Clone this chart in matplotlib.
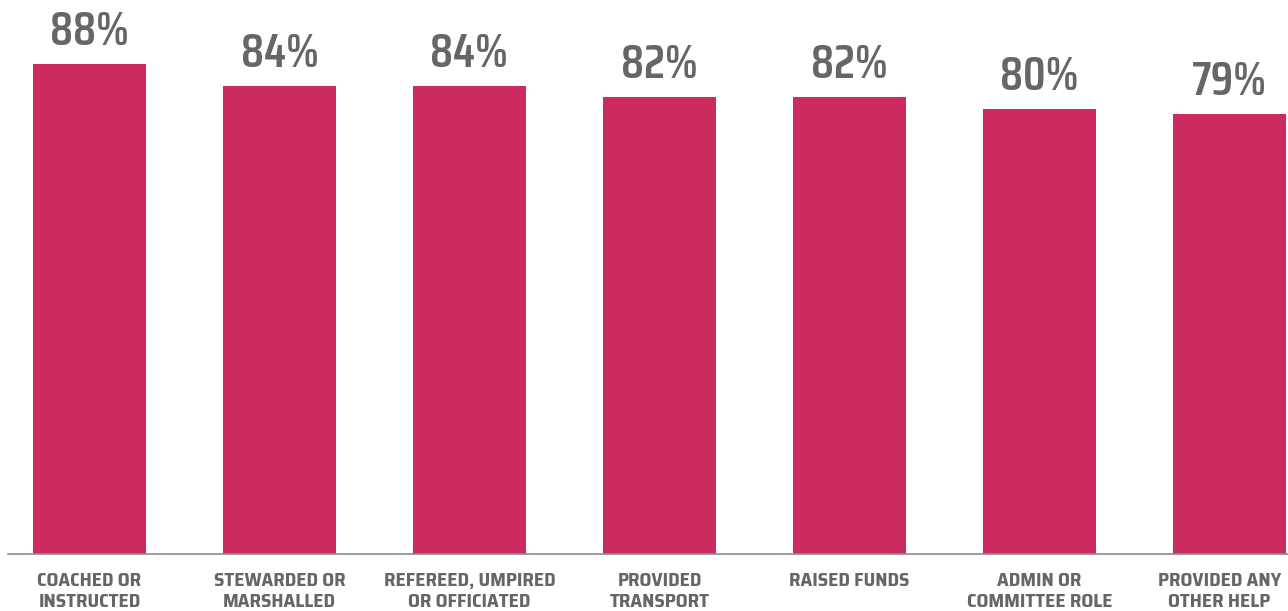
import matplotlib
matplotlib.use("Agg")
import matplotlib.pyplot as plt
from matplotlib.transforms import ScaledTranslation

# data
categories = ["COACHED OR\nINSTRUCTED", "STEWARDED OR\nMARSHALLED", "REFEREED, UMPIRED\nOR OFFICIATED",
              "PROVIDED\nTRANSPORT", "RAISED FUNDS", "ADMIN OR\nCOMMITTEE ROLE", "PROVIDED ANY\nOTHER HELP"]
values = [88, 84, 84, 82, 82, 80, 79]

BAR = "#cc2b5e"
GREY = "#666666"
FONT = ["Saira Condensed", "DejaVu Sans"]
LABEL_FONT = ["Saira SemiCondensed", "Saira Condensed", "DejaVu Sans"]

fig = plt.figure(figsize=(12.88, 6.11), dpi=100)
ax = fig.add_axes([8 / 1288, 57 / 611, 1280 / 1288, 554 / 611])

x = list(range(len(values)))
ax.bar(x, values, width=0.595, color=BAR)

# value labels above bars
for xi, v in zip(x, values):
    ax.annotate(f"{v}%", (xi, v), xytext=(0, 19), textcoords="offset pixels",
                ha="center", va="baseline", fontsize=34, color=GREY,
                family=FONT, weight="semibold")

ax.set_xlim(-0.429, 6.308)
ax.set_ylim(0, 99.5)
ax.set_xticks(x)
ax.set_xticklabels(categories, family=LABEL_FONT, weight="bold", fontsize=14,
                   color=GREY, linespacing=1.2)
ax.tick_params(axis="x", length=0, pad=13)
ax.set_yticks([])
for s in ["top", "left", "right"]:
    ax.spines[s].set_visible(False)
ax.spines["bottom"].set_color("#8c8c8c")
ax.spines["bottom"].set_linewidth(1.2)

# last label sits against the right edge, nudge it left so it fits
last = ax.get_xticklabels()[-1]
last.set_transform(last.get_transform() + ScaledTranslation(-10 / 100, 0, fig.dpi_scale_trans))

fig.savefig("out.png", dpi=100)
